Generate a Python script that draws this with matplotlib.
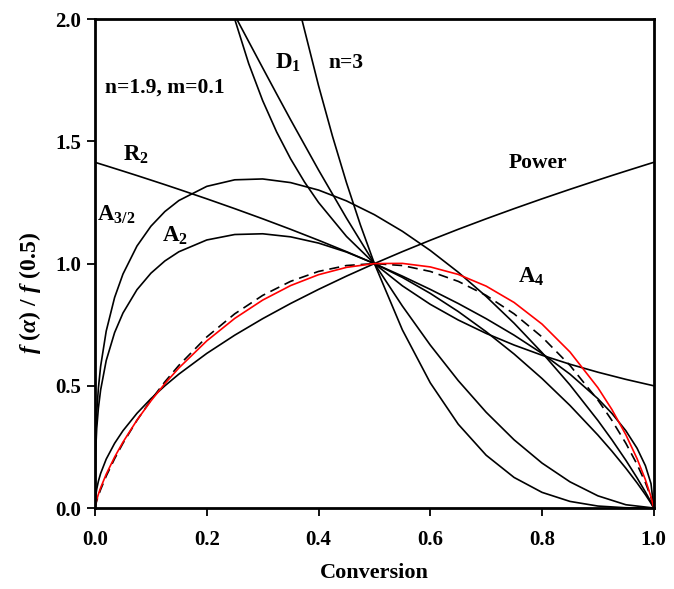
import matplotlib
matplotlib.use('Agg')
import matplotlib.pyplot as plt

plt.rcParams['font.family'] = ['Liberation Serif', 'DejaVu Serif']
plt.rcParams['font.weight'] = 'bold'
plt.rcParams['mathtext.fontset'] = 'custom'
plt.rcParams['mathtext.rm'] = 'Liberation Serif:bold'
plt.rcParams['mathtext.bf'] = 'Liberation Serif:bold'
plt.rcParams['mathtext.it'] = 'Liberation Serif:italic:bold'

# conversion grid shared by most curves
alpha = [0, 0.001, 0.003, 0.006, 0.01, 0.02, 0.035, 0.05, 0.075, 0.1, 0.125, 0.15,
         0.2, 0.25, 0.3, 0.35, 0.4, 0.45, 0.5, 0.55, 0.6, 0.65, 0.7, 0.75, 0.8,
         0.85, 0.9, 0.925, 0.95, 0.97, 0.985, 0.995, 1.0]

power = [0, 0.0447, 0.0775, 0.1095, 0.1414, 0.2, 0.2646, 0.3162, 0.3873, 0.4472, 0.5,
         0.5477, 0.6325, 0.7071, 0.7746, 0.8367, 0.8944, 0.9487, 1.0, 1.0488, 1.0954,
         1.1402, 1.1832, 1.2247, 1.2649, 1.3038, 1.3416, 1.3602, 1.3784, 1.3928,
         1.4036, 1.4107, 1.4142]

r2 = [1.4142, 1.4135, 1.4121, 1.4100, 1.4071, 1.4, 1.3892, 1.3784, 1.3602, 1.3416,
      1.3229, 1.3038, 1.2649, 1.2247, 1.1832, 1.1402, 1.0954, 1.0488, 1.0, 0.9487,
      0.8944, 0.8367, 0.7746, 0.7071, 0.6325, 0.5477, 0.4472, 0.3873, 0.3162,
      0.2449, 0.1732, 0.1, 0]

a2 = [0, 0.2258, 0.3251, 0.4086, 0.4828, 0.6032, 0.7176, 0.7977, 0.8930, 0.9606,
      1.0107, 1.0483, 1.0966, 1.1189, 1.1219, 1.1094, 1.0839, 1.0471, 1.0, 0.9435,
      0.8780, 0.8039, 0.7212, 0.6300, 0.5297, 0.4196, 0.2984, 0.2328, 0.1629,
      0.1030, 0.0547, 0.0197, 0]

a32 = [0, 0.2710, 0.3901, 0.4903, 0.5794, 0.7238, 0.8611, 0.9572, 1.0716, 1.1528,
       1.2129, 1.2579, 1.3159, 1.3427, 1.3462, 1.3313, 1.3007, 1.2565, 1.2, 1.1322,
       1.0536, 0.9647, 0.8655, 0.7560, 0.6356, 0.5036, 0.3581, 0.2793, 0.1955,
       0.1236, 0.0656, 0.0236, 0]

a4 = [0, 0.0148, 0.0337, 0.0565, 0.0827, 0.1383, 0.2083, 0.2696, 0.3593, 0.4382,
      0.5089, 0.5728, 0.6838, 0.7756, 0.8506, 0.9100, 0.9545, 0.9845, 1.0, 1.0008,
      0.9863, 0.9557, 0.9078, 0.8409, 0.7524, 0.6384, 0.4921, 0.4032, 0.2998,
      0.2024, 0.1159, 0.0460, 0]

fit = [0, 0.0121, 0.0290, 0.0504, 0.0755, 0.1305, 0.2016, 0.2649, 0.3586, 0.4416,
       0.5162, 0.5835, 0.6998, 0.7944, 0.8698, 0.9273, 0.9679, 0.9920, 1.0, 0.9920,
       0.9679, 0.9273, 0.8698, 0.7944, 0.6998, 0.5835, 0.4416, 0.3586, 0.2649,
       0.1790, 0.1041, 0.0436, 0]

alpha_d1 = [0.25, 0.275, 0.3, 0.325, 0.35, 0.375, 0.4, 0.45, 0.5, 0.55, 0.6, 0.65,
            0.7, 0.75, 0.8, 0.85, 0.9, 0.95, 1.0]
d1 = [2.0, 1.8182, 1.6667, 1.5385, 1.4286, 1.3333, 1.25, 1.1111, 1.0, 0.9091, 0.8333,
      0.7692, 0.7143, 0.6667, 0.625, 0.5882, 0.5556, 0.5263, 0.5]

alpha_n3 = [0.37, 0.4, 0.425, 0.45, 0.475, 0.5, 0.55, 0.6, 0.65, 0.7, 0.75, 0.8,
            0.85, 0.9, 0.95, 1.0]
n3 = [2.0004, 1.728, 1.5209, 1.331, 1.1576, 1.0, 0.729, 0.512, 0.343, 0.216, 0.125,
      0.064, 0.027, 0.008, 0.001, 0]

alpha_sb = [0.25, 0.275, 0.3, 0.325, 0.35, 0.4, 0.45, 0.5, 0.55, 0.6, 0.65, 0.7,
            0.75, 0.8, 0.85, 0.9, 0.95, 1.0]
sb = [2.0159, 1.9083, 1.8008, 1.6941, 1.5885, 1.3828, 1.1860, 1.0, 0.8265, 0.6665,
      0.5213, 0.3918, 0.2790, 0.1838, 0.1071, 0.0498, 0.0134, 0]

fig = plt.figure(figsize=(6.74, 5.89), dpi=100)
ax = fig.add_axes([0.141, 0.1375, 0.829, 0.830])

lw = 1.2
ax.plot(alpha, power, color='black', lw=lw)
ax.plot(alpha, r2, color='black', lw=lw)
ax.plot(alpha, a2, color='black', lw=lw)
ax.plot(alpha, a32, color='black', lw=lw)
ax.plot(alpha_d1, d1, color='black', lw=lw)
ax.plot(alpha_n3, n3, color='black', lw=lw)
ax.plot(alpha_sb, sb, color='black', lw=lw)
ax.plot(alpha, fit, color='black', lw=lw, dashes=(6, 3.5))
ax.plot(alpha, a4, color='red', lw=lw)

ax.set_xlim(0, 1)
ax.set_ylim(0, 2)
ax.set_xticks([0.0, 0.2, 0.4, 0.6, 0.8, 1.0])
ax.set_yticks([0.0, 0.5, 1.0, 1.5, 2.0])
ax.set_xticklabels(['0.0', '0.2', '0.4', '0.6', '0.8', '1.0'])
ax.set_yticklabels(['0.0', '0.5', '1.0', '1.5', '2.0'])
ax.tick_params(direction='out', length=6, width=1.3, labelsize=15, pad=4)
ax.tick_params(axis='x', pad=10)
for s in ax.spines.values():
    s.set_linewidth(2)

ax.set_xlabel('Conversion', fontsize=16, fontweight='bold', labelpad=9)
ax.set_ylabel(r'$\mathit{f}\ \mathrm{(}\mathit{\alpha}\mathrm{)\ /\ }\mathit{f}\ \mathrm{(0.5)}$',
              fontsize=17, labelpad=9)
ax.yaxis.label.set_y(0.44)

fs = 15.5
ax.text(0.018, 1.72, 'n=1.9, m=0.1', fontsize=fs, fontweight='bold', va='center')
ax.text(0.322, 1.82, r'$\mathrm{D_1}$', fontsize=fs + 1, va='center')
ax.text(0.417, 1.82, 'n=3', fontsize=fs, fontweight='bold', va='center')
ax.text(0.05, 1.445, r'$\mathrm{R_2}$', fontsize=fs + 1, va='center')
ax.text(0.004, 1.2, r'$\mathrm{A_{3/2}}$', fontsize=fs + 1, va='center')
ax.text(0.12, 1.115, r'$\mathrm{A_2}$', fontsize=fs + 1, va='center')
ax.text(0.741, 1.41, 'Power', fontsize=fs, fontweight='bold', va='center')
ax.text(0.757, 0.945, r'$\mathrm{A_4}$', fontsize=fs + 1, va='center')

fig.savefig('out.png', dpi=100)
